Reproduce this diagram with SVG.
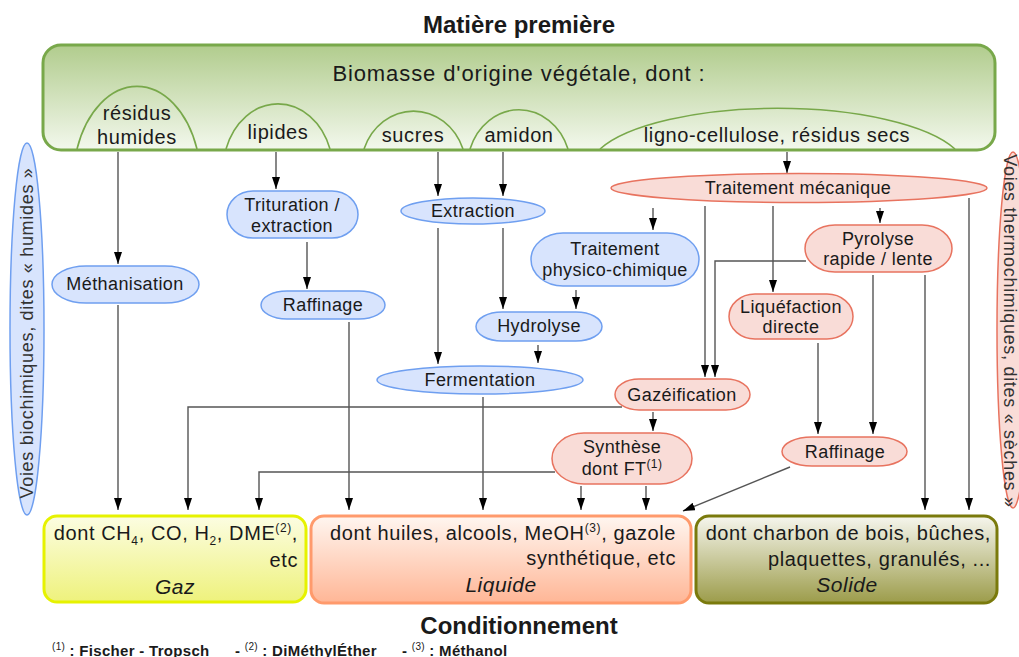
<svg xmlns="http://www.w3.org/2000/svg" width="1019" height="657" viewBox="0 0 1019 657">
<defs>
<linearGradient id="gGreen" x1="0" y1="0" x2="0" y2="1"><stop offset="0" stop-color="#b1cc8d"/><stop offset="1" stop-color="#f3f8ed"/></linearGradient>
<linearGradient id="gGaz" x1="0" y1="0" x2="0" y2="1"><stop offset="0" stop-color="#fcfde2"/><stop offset="1" stop-color="#eef27c"/></linearGradient>
<linearGradient id="gLiq" x1="0" y1="0" x2="0" y2="1"><stop offset="0" stop-color="#fff6f0"/><stop offset="1" stop-color="#ffb696"/></linearGradient>
<linearGradient id="gSol" x1="0" y1="0" x2="0" y2="1"><stop offset="0" stop-color="#f6f6ee"/><stop offset="1" stop-color="#9c9c4a"/></linearGradient>
<marker id="arr" viewBox="0 0 12 8" refX="12" refY="4" markerWidth="12" markerHeight="8" markerUnits="userSpaceOnUse" orient="auto"><path d="M0,0 L12,4 L0,8 z" fill="#000"/></marker>
</defs>
<style>
text{font-family:"Liberation Sans",Arial,sans-serif;fill:#1a1a1a}
.t{font-size:24px;font-weight:bold;text-anchor:middle}
.bio{font-size:22px;letter-spacing:0.9px;text-anchor:middle}
.arc{font-size:20px;letter-spacing:0.6px;text-anchor:middle}
.n{font-size:18px;letter-spacing:0.4px;text-anchor:middle}
.bt{font-size:20px;letter-spacing:0.6px}
.it{font-size:21px;font-style:italic;text-anchor:middle;letter-spacing:0.5px}
.sm{font-size:12px}
.v{font-size:18px;letter-spacing:0.7px;text-anchor:middle;fill:#333}
.fn{font-size:15px;font-weight:bold;letter-spacing:0.3px}
.fs{font-size:10px;font-weight:normal}
.blue{fill:#d8e4fd;stroke:#6f9ff0;stroke-width:1.5}
.red{fill:#f9dcd7;stroke:#e8735f;stroke-width:1.5}
.dome{fill:none;stroke:#78a84a;stroke-width:1.6}
#connectors path{fill:none;stroke:#555;stroke-width:1.4;marker-end:url(#arr)}
</style>

<text class="t" x="519" y="33">Matière première</text>

<g id="biomasse">
<rect x="43" y="45" width="952" height="105" rx="18" fill="url(#gGreen)" stroke="#78a84a" stroke-width="3"/>
<text class="bio" x="519" y="81">Biomasse d'origine végétale, dont :</text>
</g>
<g id="residus-humides">
<path class="dome" d="M77,149 A64,96 0 0 1 197,149"/>
<text class="arc" x="137" y="120">résidus</text>
<text class="arc" x="137" y="144">humides</text>
</g>
<g id="lipides">
<path class="dome" d="M226,149 A55,67 0 0 1 330,149"/>
<text class="arc" x="278" y="139">lipides</text>
</g>
<g id="sucres">
<path class="dome" d="M364,149 A53,59 0 0 1 463,149"/>
<text class="arc" x="413" y="142">sucres</text>
</g>
<g id="amidon">
<path class="dome" d="M470,149 A52,59 0 0 1 568,149"/>
<text class="arc" x="519" y="142">amidon</text>
</g>
<g id="ligno">
<path class="dome" d="M600,149 A189,62 0 0 1 955,149"/>
<text class="arc" x="777" y="142">ligno-cellulose, résidus secs</text>
</g>

<g id="voies-bio">
<ellipse cx="27" cy="329" rx="17" ry="186" class="blue"/>
<text class="v" transform="translate(33,333) rotate(-90)" x="0" y="0">Voies biochimiques, dites « humides »</text>
</g>
<g id="voies-thermo">
<ellipse cx="1013" cy="330" rx="16" ry="178" class="red"/>
<text class="v" transform="translate(1004,331) rotate(90)" x="0" y="0">Voies thermochimiques, dites « sèches »</text>
</g>

<g id="connectors">
<path d="M118,152 V264"/>
<path d="M118,305 V510"/>
<path d="M276,152 V189"/>
<path d="M307,242 V289"/>
<path d="M349,322 V510"/>
<path d="M438,152 V196"/>
<path d="M503,152 V196"/>
<path d="M438,228 V364"/>
<path d="M503,228 V309"/>
<path d="M538,345 V363"/>
<path d="M483,397 V510"/>
<path d="M787,152 V173"/>
<path d="M653,208 V230"/>
<path d="M576,290 V309"/>
<path d="M705,206 V377"/>
<path d="M806,261 H715 V377"/>
<path d="M773,206 V292"/>
<path d="M880,208 V223"/>
<path d="M969,198 V510"/>
<path d="M873,275 V434"/>
<path d="M925,275 V510"/>
<path d="M818,343 V434"/>
<path d="M790,467 L683,511"/>
<path d="M622,407 H188 V510"/>
<path d="M653,412 V431"/>
<path d="M555,472 H259 V510"/>
<path d="M581,486 V510"/>
<path d="M646,486 V510"/>
</g>

<g id="trituration">
<rect x="227" y="191" width="131" height="47" rx="26" ry="23.5" class="blue"/>
<text class="n" x="292" y="211">Trituration /</text>
<text class="n" x="292" y="232">extraction</text>
</g>
<g id="methanisation">
<rect x="52" y="266" width="147" height="37" rx="34" ry="18.5" class="blue"/>
<text class="n" x="125" y="290">Méthanisation</text>
</g>
<g id="raffinage-bio">
<rect x="261" y="291" width="124" height="28" rx="26" ry="14" class="blue"/>
<text class="n" x="323" y="311">Raffinage</text>
</g>
<g id="extraction">
<ellipse cx="473" cy="211" rx="72" ry="13" class="blue"/>
<text class="n" x="473" y="217">Extraction</text>
</g>
<g id="physico">
<rect x="531" y="233" width="168" height="53" rx="32" ry="26.5" class="blue"/>
<text class="n" x="615" y="255">Traitement</text>
<text class="n" x="615" y="276">physico-chimique</text>
</g>
<g id="hydrolyse">
<rect x="476" y="312" width="126" height="29" rx="26" ry="14.5" class="blue"/>
<text class="n" x="539" y="332">Hydrolyse</text>
</g>
<g id="fermentation">
<ellipse cx="480" cy="380" rx="103" ry="14" class="blue"/>
<text class="n" x="480" y="386">Fermentation</text>
</g>

<g id="traitement-mecanique">
<ellipse cx="799" cy="188" rx="188" ry="14.5" class="red"/>
<text class="n" x="798" y="194">Traitement mécanique</text>
</g>
<g id="pyrolyse">
<rect x="805" y="225" width="147" height="47" rx="30" ry="23.5" class="red"/>
<text class="n" x="878" y="245">Pyrolyse</text>
<text class="n" x="878" y="265">rapide / lente</text>
</g>
<g id="liquefaction">
<rect x="729" y="294" width="124" height="45" rx="26" ry="22.5" class="red"/>
<text class="n" x="791" y="313">Liquéfaction</text>
<text class="n" x="791" y="333">directe</text>
</g>
<g id="gazeification">
<rect x="615" y="379" width="135" height="31" rx="24" ry="15.5" class="red"/>
<text class="n" x="682" y="401">Gazéification</text>
</g>
<g id="synthese">
<rect x="552" y="433" width="140" height="51" rx="32" ry="25.5" class="red"/>
<text class="n" x="622" y="453">Synthèse</text>
<text class="n" x="622" y="475">dont FT<tspan class="sm" dy="-7">(1)</tspan></text>
</g>
<g id="raffinage-thermo">
<rect x="782" y="437" width="125" height="29" rx="30" ry="14.5" class="red"/>
<text class="n" x="845" y="458">Raffinage</text>
</g>

<g id="gaz">
<rect x="44" y="516" width="262" height="86" rx="13" fill="url(#gGaz)" stroke="#e6f200" stroke-width="3"/>
<text class="bt" x="298" y="540" text-anchor="end">dont CH<tspan class="sm" dy="5">4</tspan><tspan dy="-5">, CO, H</tspan><tspan class="sm" dy="5">2</tspan><tspan dy="-5">, DME</tspan><tspan class="sm" dy="-8">(2)</tspan><tspan dy="8">,</tspan></text>
<text class="bt" x="298" y="567" text-anchor="end">etc</text>
<text class="it" x="175" y="594">Gaz</text>
</g>
<g id="liquide">
<rect x="311" y="516" width="380" height="87" rx="13" fill="url(#gLiq)" stroke="#ff9a6c" stroke-width="3"/>
<text class="bt" x="676" y="540" text-anchor="end">dont huiles, alcools, MeOH<tspan class="sm" dy="-8">(3)</tspan><tspan dy="8">, gazole</tspan></text>
<text class="bt" x="676" y="565" text-anchor="end">synthétique, etc</text>
<text class="it" x="501" y="592">Liquide</text>
</g>
<g id="solide">
<rect x="696" y="516" width="301" height="87" rx="13" fill="url(#gSol)" stroke="#7a7a0c" stroke-width="3"/>
<text class="bt" x="991" y="540" text-anchor="end">dont charbon de bois, bûches,</text>
<text class="bt" x="991" y="566" text-anchor="end">plaquettes, granulés, ...</text>
<text class="it" x="847" y="592">Solide</text>
</g>

<text class="t" x="519" y="634">Conditionnement</text>
<text class="fn" x="52" y="656"><tspan class="fs" dy="-6">(1)</tspan><tspan dy="6"> : Fischer - Tropsch</tspan></text>
<text class="fn" x="235" y="656">- <tspan class="fs" dy="-6">(2)</tspan><tspan dy="6"> : DiMéthylÉther</tspan></text>
<text class="fn" x="402" y="656">- <tspan class="fs" dy="-6">(3)</tspan><tspan dy="6"> : Méthanol</tspan></text>
</svg>
